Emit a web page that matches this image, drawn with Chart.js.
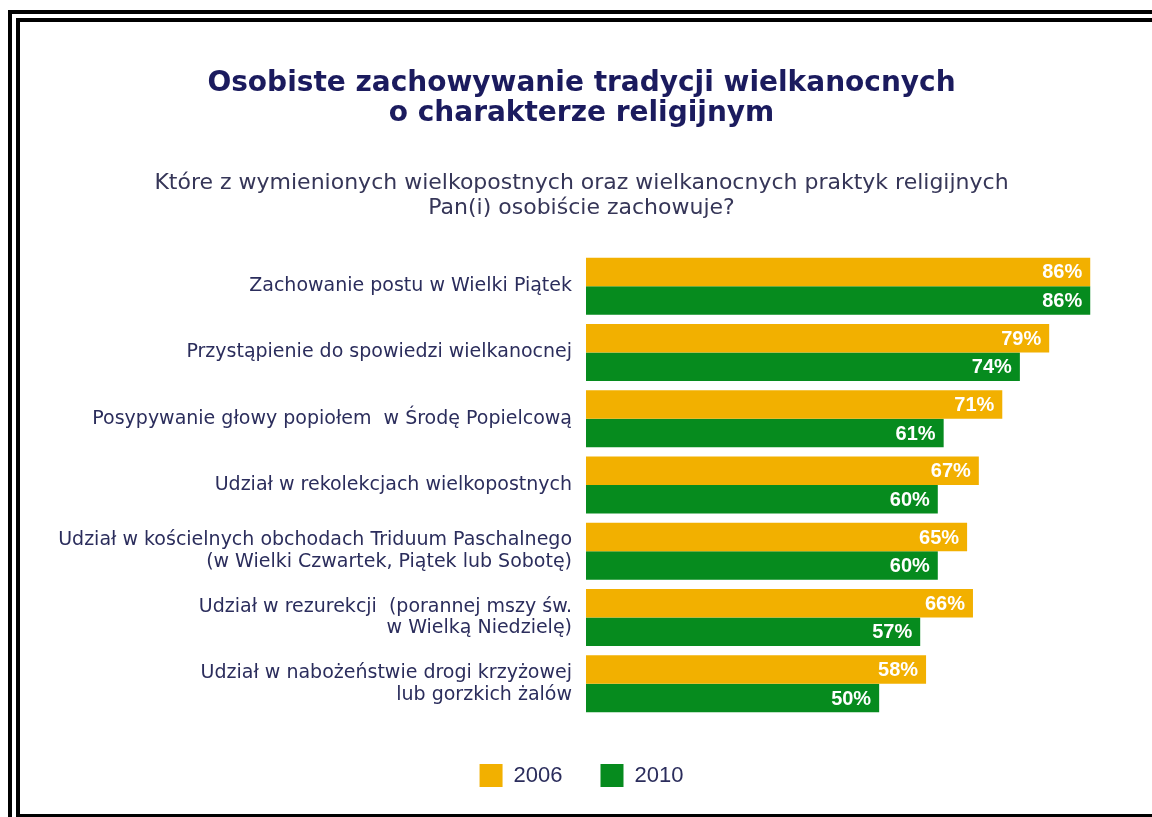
<!DOCTYPE html>
<html lang="pl">
<head>
<meta charset="utf-8">
<title>Osobiste zachowywanie tradycji wielkanocnych</title>
<script src="https://cdn.jsdelivr.net/npm/chart.js@4/dist/chart.umd.min.js"></script>
<style>
  html, body { margin: 0; padding: 0; background: #fff; }
  body { width: 1152px; height: 817px; position: relative; overflow: hidden; }
  #wrap { position: absolute; left: 0; top: 0; width: 1152px; height: 817px; }
  .line { position: absolute; background: #000; }
</style>
</head>
<body>
<div id="wrap"><canvas id="easterChart"></canvas></div>
<!-- double frame, cut off on the right and at the bottom -->
<div class="line" style="left:8px;top:10px;width:1144px;height:4px"></div>
<div class="line" style="left:8px;top:10px;width:4px;height:807px"></div>
<div class="line" style="left:16px;top:18px;width:1136px;height:4px"></div>
<div class="line" style="left:16px;top:18px;width:4px;height:799px"></div>
<div class="line" style="left:16px;top:814px;width:1136px;height:3px"></div>
<script>
// Easter religious practices, % of respondents (2006 vs 2010)
const categories = [
  'Zachowanie postu w Wielki Piątek',
  'Przystąpienie do spowiedzi wielkanocnej',
  'Posypywanie głowy popiołem  w Środę Popielcową',
  'Udział w rekolekcjach wielkopostnych',
  ['Udział w kościelnych obchodach Triduum Paschalnego', '(w Wielki Czwartek, Piątek lub Sobotę)'],
  ['Udział w rezurekcji  (porannej mszy św.', 'w Wielką Niedzielę)'],
  ['Udział w nabożeństwie drogi krzyżowej', 'lub gorzkich żalów']
];
const values2006 = [86, 79, 71, 67, 65, 66, 58];
const values2010 = [86, 74, 61, 60, 60, 57, 50];
const seriesNames = ['2006', '2010'];

const titleLines = ['Osobiste zachowywanie tradycji wielkanocnych', 'o charakterze religijnym'];
const subtitleLines = ['Które z wymienionych wielkopostnych oraz wielkanocnych praktyk religijnych', 'Pan(i) osobiście zachowuje?'];

const SANS = "'DejaVu Sans', Verdana, sans-serif";
const NARROW = "'Liberation Sans Narrow', 'Arial Narrow', 'Liberation Sans', Arial, sans-serif";

// white % labels at the end of each bar
const valueLabels = {
  id: 'valueLabels',
  afterDatasetsDraw(chart) {
    const ctx = chart.ctx;
    ctx.save();
    ctx.font = 'bold 20px ' + NARROW;
    ctx.fillStyle = '#ffffff';
    ctx.textAlign = 'right';
    ctx.textBaseline = 'middle';
    chart.data.datasets.forEach((ds, i) => {
      chart.getDatasetMeta(i).data.forEach((bar, j) => {
        ctx.fillText(ds.data[j] + '%', bar.x - 8, bar.y + 1);
      });
    });
    ctx.restore();
  }
};

new Chart(document.getElementById('easterChart'), {
  type: 'bar',
  data: {
    labels: categories,
    datasets: [
      { label: seriesNames[0], data: values2006, backgroundColor: '#f2b000' },
      { label: seriesNames[1], data: values2010, backgroundColor: '#068b1e' }
    ]
  },
  options: {
    indexAxis: 'y',
    responsive: true,
    maintainAspectRatio: false,
    animation: false,
    datasets: { bar: { barPercentage: 1, categoryPercentage: 0.86 } },
    layout: { padding: { left: 20, right: 9, top: 0, bottom: 20 } },
    plugins: {
      title: {
        display: true,
        text: titleLines,
        color: '#1b1b5e',
        font: { family: SANS, size: 28, weight: 'bold', lineHeight: 1.07 },
        padding: { top: 69, bottom: 42 }
      },
      subtitle: {
        display: true,
        text: subtitleLines,
        color: '#363658',
        font: { family: SANS, size: 22, lineHeight: 1.14 },
        padding: { top: 0, bottom: 32 }
      },
      legend: {
        position: 'bottom',
        labels: {
          boxWidth: 23,
          boxHeight: 23,
          padding: 38,
          color: '#2b2d5c',
          font: { family: NARROW, size: 22 }
        }
      },
      tooltip: { enabled: false }
    },
    scales: {
      x: {
        min: 0,
        max: 95,
        display: true,
        ticks: { display: false },
        grid: { display: false },
        border: { display: false },
        afterFit: (axis) => { axis.height = 9; }
      },
      y: {
        grid: { display: false, drawTicks: false },
        border: { display: false },
        ticks: {
          color: '#2b2d5c',
          padding: 14,
          font: { family: SANS, size: 19, lineHeight: 1.15 }
        },
        afterFit: (axis) => { axis.width = 566; }
      }
    }
  },
  plugins: [valueLabels]
});
</script>
</body>
</html>
